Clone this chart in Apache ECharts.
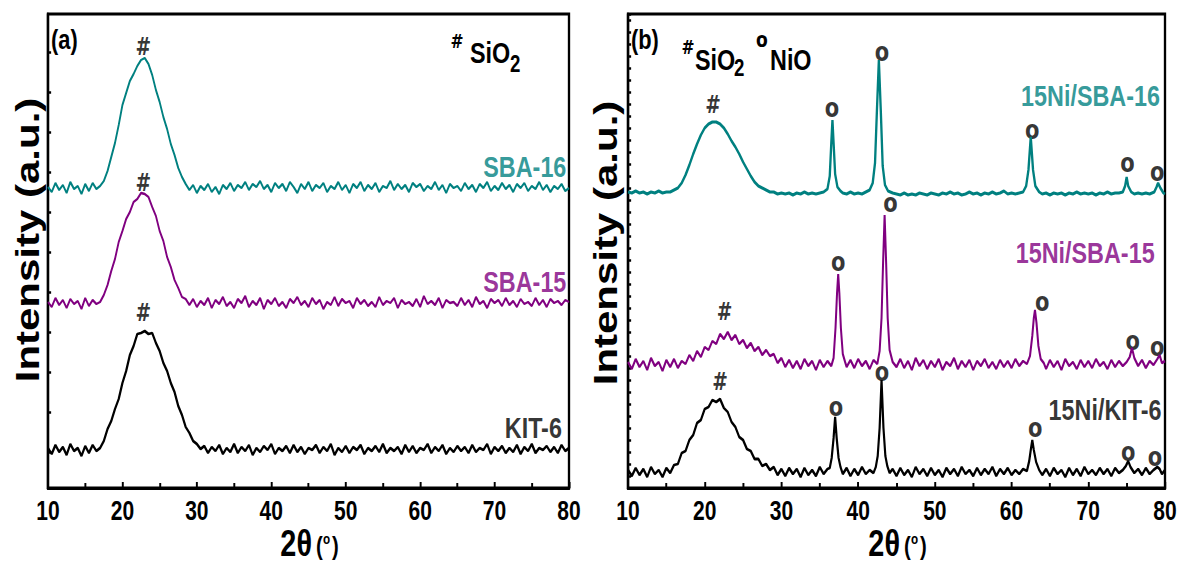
<!DOCTYPE html>
<html><head><meta charset="utf-8">
<script src="https://cdn.jsdelivr.net/npm/echarts@6/dist/echarts.min.js"></script>
<style>
html,body{margin:0;padding:0;background:#fff;overflow:hidden}
#wrap{width:1182px;height:564px;overflow:hidden}
#c{width:1516px;height:564px;transform:scaleX(0.77968);transform-origin:0 0}
</style>
</head><body><div id="wrap"><div id="c"></div></div>
<script>
// ---------- DATA (intensity in arbitrary units, curves offset as in the figure) ----------
const xTicks = [10, 20, 30, 40, 50, 60, 70, 80];
const sampleNames = ['SBA-16', 'SBA-15', 'KIT-6', '15Ni/SBA-16', '15Ni/SBA-15', '15Ni/KIT-6'];
// panel (a): sampled every 0.5 deg from 10 to 80
const sba16 = [301,296,305,298,303,295,306,299,302,294,304,297,305,299,302,307,317,331,345,363,383,395,407,414,422,428,430,424,413,398,386,371,359,344,333,320,311,304,298,
303,295,302,298,304,296,301,294,303,299,305,297,303,300,306,298,304,301,307,299,303,296,305,300,304,297,306,301,295,304,299,306,297,303,300,305,296,302,299,306,298,303,295,304,300,306,297,303,299,305,296,302,300,307,298,304,299,303,296,305,301,304,297,302,299,306,298,303,295,304,300,302,297,305,299,303,296,304,300,306,297,302,298,305,299,303,296,304,300,305,297,302,299,306,298,303,296,302,299,304,297,300];
const sba15 = [186,181,190,183,188,180,189,184,187,179,190,182,188,184,186,193,203,217,229,246,257,269,276,286,289,295,294,291,281,272,257,247,231,221,208,200,191,189,183,
189,181,187,183,190,180,188,184,191,182,186,180,189,185,192,181,187,183,190,179,188,184,190,182,186,180,189,185,191,183,187,181,190,184,188,179,186,183,191,182,189,185,187,180,190,184,188,182,186,181,191,183,187,185,190,180,188,184,186,182,189,181,192,184,187,183,190,180,188,185,186,182,190,183,188,181,191,184,187,180,189,185,188,182,190,183,187,181,189,184,186,182,190,183,188,181,189,185,187,183,188,186];
const kit6 = [40,34,43,36,41,33,44,37,40,32,42,35,43,37,40,47,59,67,79,89,105,117,133,142,154,155,157,154,155,145,137,125,117,105,96,82,73,61,55,47,44,39,
42,35,41,37,43,34,40,36,44,35,41,37,43,33,40,36,42,38,44,34,40,37,42,35,43,36,41,34,40,38,43,35,41,37,44,33,40,36,42,35,41,38,43,34,40,37,42,36,44,35,40,37,41,34,43,36,42,35,40,38,44,35,41,37,43,34,40,36,42,37,41,35,43,36,40,38,44,34,41,37,42,35,40,36,43,34,41,37,44,35,40,38,42,36,41,35,43,37,40];
// panel (b): [2theta, intensity]
const ni_sba16 = [[10,296],[10.5,295],[11,297],[11.5,295],[12,296],[12.5,294],[13,296],[13.5,295],[14,297],[14.5,295],[15,296],[15.5,296],[16,298],[16.5,300],[17,305],[17.5,313],[18,323],[18.5,334],[19,344],[19.5,353],[20,360],[20.5,364],[21,366],[21.5,366],[22,364],[22.5,360],[23,354],[23.5,347],[24,341],[24.5,334],[25,326],[25.5,319],[26,312],[26.5,306],[27,302],[27.5,300],[28,298],[28.5,296],[29,296],[29.5,294],[30,295],[30.5,294],[31,295],[31.5,293],[32,295],[32.5,294],[33,296],[33.5,294],[34,295],[34.5,294],[35,295],[35.5,296],[36,299],[36.3,312],[36.5,345],[36.65,368],[36.8,345],[37,314],[37.3,301],[37.7,297],[38,295],[38.5,294],[39,296],[39.5,294],[40,295],[40.5,294],[41,296],[41.5,298],[41.9,305],[42.2,325],[42.45,378],[42.7,428],[42.95,378],[43.2,322],[43.5,303],[43.9,297],[44.5,295],[45,294],[45.5,293],[46,295],[46.5,293],[47,294],[47.5,293],[48,295],[48.5,294],[49,293],[49.5,295],[50,294],[50.5,293],[51,295],[51.5,294],[52,296],[52.5,294],[53,295],[53.5,293],[54,294],[54.5,296],[55,294],[55.5,295],[56,293],[56.5,295],[57,294],[57.5,296],[58,294],[58.5,295],[59,297],[59.5,294],[60,295],[60.5,294],[61,295],[61.5,296],[61.9,302],[62.2,318],[62.5,351],[62.8,318],[63.1,302],[63.6,296],[64,294],[64.5,295],[65,293],[65.5,295],[66,294],[66.5,295],[67,293],[67.5,295],[68,294],[68.5,296],[69,294],[69.5,295],[70,294],[70.5,295],[71,293],[71.5,295],[72,294],[72.5,296],[73,294],[73.5,295],[74,295],[74.5,296],[74.8,302],[75,311],[75.2,302],[75.6,296],[76,294],[76.5,295],[77,294],[77.5,295],[78,294],[78.6,296],[78.9,301],[79.1,305],[79.4,300],[79.8,295],[80,294]];
const ni_sba15 = [[10,126],[10.5,119],[11,129],[11.5,121],[12,127],[12.5,118],[13,130],[13.5,122],[14,126],[14.5,117],[15,128],[15.5,121],[16,129],[16.5,120],[17,127],[17.5,124],[18,133],[18.5,127],[19,137],[19.5,131],[20,141],[20.5,138],[21,147],[21.5,144],[22,154],[22.5,149],[23,156],[23.5,148],[24,153],[24.5,144],[25,148],[25.5,140],[26,145],[26.5,137],[27,141],[27.5,133],[28,138],[28.5,132],[29,134],[29.5,125],[30,130],[30.5,121],[31,128],[31.5,120],[32,127],[32.5,119],[33,129],[33.5,122],[34,127],[34.5,118],[35,128],[35.5,121],[36,127],[36.5,122],[36.8,130],[37.05,160],[37.25,195],[37.4,214],[37.55,195],[37.75,160],[38,134],[38.3,126],[38.5,121],[39,128],[39.5,120],[40,129],[40.5,122],[41,127],[41.5,119],[42,128],[42.5,124],[42.8,137],[43.05,170],[43.25,225],[43.45,273],[43.65,225],[43.85,170],[44.1,138],[44.5,126],[45,121],[45.5,129],[46,120],[46.5,127],[47,118],[47.5,130],[48,122],[48.5,128],[49,119],[49.5,127],[50,121],[50.5,129],[51,118],[51.5,126],[52,122],[52.5,130],[53,119],[53.5,127],[54,121],[54.5,128],[55,118],[55.5,127],[56,122],[56.5,129],[57,120],[57.5,126],[58,119],[58.5,128],[59,121],[59.5,127],[60,120],[60.5,129],[61,122],[61.5,127],[62,124],[62.4,132],[62.7,152],[62.9,170],[63.05,178],[63.25,165],[63.5,142],[63.8,129],[64.2,125],[64.5,119],[65,128],[65.5,121],[66,127],[66.5,118],[67,129],[67.5,122],[68,126],[68.5,119],[69,128],[69.5,121],[70,127],[70.5,120],[71,129],[71.5,122],[72,126],[72.5,119],[73,128],[73.5,121],[74,127],[74.5,122],[75,126],[75.4,131],[75.7,140],[76,130],[76.5,122],[77,128],[77.5,120],[78,127],[78.5,123],[79,129],[79.3,133],[79.6,125],[80,127]];
const ni_kit6 = [[10,18],[10.5,12],[11,20],[11.5,13],[12,19],[12.5,11],[13,21],[13.5,14],[14,18],[14.5,11],[15,20],[15.5,15],[16,23],[16.5,24],[17,35],[17.5,37],[18,48],[18.5,53],[19,65],[19.5,68],[20,79],[20.5,81],[21,88],[21.5,86],[22,89],[22.5,80],[23,76],[23.5,66],[24,61],[24.5,51],[25,48],[25.5,39],[26,37],[26.5,29],[27,29],[27.5,22],[28,24],[28.5,18],[29,21],[29.5,13],[30,19],[30.5,12],[31,20],[31.5,14],[32,19],[32.5,11],[33,20],[33.5,13],[34,18],[34.5,12],[35,21],[35.5,14],[36,19],[36.3,20],[36.55,30],[36.8,50],[37,71],[37.2,50],[37.45,30],[37.7,21],[38,14],[38.5,20],[39,12],[39.5,19],[40,13],[40.5,21],[41,14],[41.5,18],[42,15],[42.3,21],[42.55,32],[42.8,60],[43.05,108],[43.3,60],[43.55,32],[43.8,22],[44.1,15],[44.5,19],[45,12],[45.5,20],[46,13],[46.5,18],[47,11],[47.5,21],[48,14],[48.5,19],[49,12],[49.5,20],[50,13],[50.5,18],[51,11],[51.5,20],[52,14],[52.5,19],[53,12],[53.5,21],[54,14],[54.5,18],[55,12],[55.5,20],[56,13],[56.5,19],[57,14],[57.5,21],[58,12],[58.5,19],[59,14],[59.5,20],[60,13],[60.5,18],[61,14],[61.5,19],[62,17],[62.3,27],[62.5,38],[62.7,48],[62.9,38],[63.2,26],[63.6,18],[64,13],[64.5,19],[65,12],[65.5,20],[66,14],[66.5,18],[67,11],[67.5,20],[68,13],[68.5,19],[69,12],[69.5,21],[70,14],[70.5,18],[71,13],[71.5,20],[72,14],[72.5,19],[73,12],[73.5,20],[74,15],[74.5,18],[74.9,22],[75.2,27],[75.5,21],[76,15],[76.5,19],[77,13],[77.5,20],[78,14],[78.5,18],[79,21],[79.3,19],[79.6,14],[80,18]];
// peak markers (# = SiO2, o = NiO) and sample-name anchors, in data coordinates
const hashLeft = [[22.8,441],[22.8,305],[22.8,175]];
const hashRight = [[21.1,383],[22.6,176],[22.0,106]];
const nioRight = [[36.6,380],[43.1,436],[62.7,358],[75.1,325],[79.0,316],
                  [37.4,226],[44.2,285],[64.0,186],[75.8,147],[79.0,141],
                  [37.1,81],[43.1,116],[63.1,60],[75.2,36],[78.7,31]];
const nameLeft = [[79.7,321],[79.7,206],[79.1,60]];
const nameRight = [[79.4,392],[78.7,235],[79.6,78]];
const leftYTicks = [36,76,116,156,196,236,276,316,356,396,436];

// ---------- CHART ----------
const K = 0.77968;               // horizontal squeeze of the whole figure (CSS)
const X = px => px / K;          // page pixel -> chart pixel
const TEAL = '#008080', PURPLE = '#800080', BLACK = '#000000';
const SANS = "'Liberation Sans',Arial,Helvetica,sans-serif";
const DJ = "'DejaVu Sans',sans-serif";
const twoTheta = sba16.map((_, i) => 10 + 0.5 * i);

function xAx(gi) {
  return {
    type: 'value', gridIndex: gi, min: 10, max: 80, interval: 10,
    axisLine: { lineStyle: { color: '#000', width: 3 } },
    axisTick: { inside: true, length: 6, lineStyle: { color: '#000', width: 2.5 } },
    minorTick: { show: true, splitNumber: 2, length: 5, lineStyle: { color: '#000', width: 2.5 } },
    splitLine: { show: false },
    axisLabel: { color: '#000', fontFamily: SANS, fontWeight: 'bold', fontSize: 27, margin: 9,
      formatter: v => xTicks.indexOf(v) >= 0 ? String(v) : '' }
  };
}
function yAx(gi, ticks) {
  const t = { inside: true, length: 4, lineStyle: { color: '#000', width: 2.5 } };
  if (ticks) t.customValues = ticks;
  const a = { type: 'value', gridIndex: gi, min: 0, max: 474,
    axisLine: { show: true, lineStyle: { color: '#000', width: 3 } },
    axisTick: t, axisLabel: { show: false }, splitLine: { show: false } };
  if (!ticks) a.interval = 12;
  return a;
}
function line(gi, data, color, w) {
  return { type: 'line', xAxisIndex: gi, yAxisIndex: gi, data, showSymbol: false, symbol: 'none',
    lineStyle: { color, width: w, join: 'bevel' }, itemStyle: { color }, silent: true, animation: false };
}
function marks(gi, data, text, size, family) {
  return { type: 'scatter', xAxisIndex: gi, yAxisIndex: gi, data, symbolSize: 1, silent: true, animation: false,
    itemStyle: { color: 'rgba(0,0,0,0)' },
    label: { show: true, position: 'inside', formatter: text, color: '#000', fontWeight: 'bold', fontSize: size, fontFamily: family } };
}
function names(gi, pts, labels, colors) {
  return { type: 'scatter', xAxisIndex: gi, yAxisIndex: gi, symbolSize: 1, silent: true, animation: false,
    itemStyle: { color: 'rgba(0,0,0,0)' },
    data: pts.map((p, i) => ({ value: p, name: labels[i],
      label: { show: true, position: 'left', distance: 0, formatter: '{b}', color: colors[i], fontWeight: 'bold', fontSize: 30, fontFamily: SANS } })) };
}
const txt = (x, y, s, font, align) => ({ type: 'text', x: X(x), y, style: { text: s, font, fill: '#000', align: align || 'left', verticalAlign: 'middle' } });
const xTitle = cx => [
  txt(cx + 4, 543, '2θ', "bold 37px " + SANS, 'right'),
  txt(cx + 8, 546, '(', "bold 26px " + SANS),
  txt(cx + 15, 539, 'o', "bold 15px " + SANS),
  txt(cx + 24, 546, ')', "bold 26px " + SANS)
];
const yTitle = (cx, cy) => ({ type: 'text', x: X(cx), y: cy, rotation: Math.PI / 2,
  style: { text: 'Intensity (a.u.)', font: "bold 42px " + SANS, fill: '#000', align: 'center', verticalAlign: 'middle' } });

const chart = echarts.init(document.getElementById('c'), null, { renderer: 'svg' });
chart.setOption({
  backgroundColor: '#fff',
  animation: false,
  grid: [
    { left: X(48), top: 14, width: X(521), height: 474, show: true, borderColor: '#000', borderWidth: 3 },
    { left: X(628), top: 14, width: X(537), height: 474, show: true, borderColor: '#000', borderWidth: 3 }
  ],
  xAxis: [xAx(0), xAx(1)],
  yAxis: [yAx(0, leftYTicks), yAx(1, null)],
  series: [
    line(0, twoTheta.map((x, i) => [x, sba16[i]]), TEAL, 2.4),
    line(0, twoTheta.map((x, i) => [x, sba15[i]]), PURPLE, 2.4),
    line(0, twoTheta.map((x, i) => [x, kit6[i]]), BLACK, 2.8),
    line(1, ni_sba16, TEAL, 3),
    line(1, ni_sba15, PURPLE, 2.6),
    line(1, ni_kit6, BLACK, 2.8),
    marks(0, hashLeft, '#', 24, DJ),
    marks(1, hashRight, '#', 24, DJ),
    marks(1, nioRight, 'o', 27, DJ),
    names(0, nameLeft, sampleNames.slice(0, 3), [TEAL, PURPLE, BLACK]),
    names(1, nameRight, sampleNames.slice(3), [TEAL, PURPLE, BLACK])
  ],
  graphic: [
    txt(51, 39, '(a)', "bold 28px " + SANS),
    txt(631, 39, '(b)', "bold 28px " + SANS),
    // legend (a)
    txt(457, 41, '#', "bold 20px " + DJ, 'center'),
    txt(470, 53, 'SiO', "bold 30px " + SANS),
    txt(510, 64, '2', "bold 24px " + SANS),
    // legend (b)
    txt(688, 47, '#', "bold 20px " + DJ, 'center'),
    txt(695, 60, 'SiO', "bold 30px " + SANS),
    txt(734, 68, '2', "bold 24px " + SANS),
    txt(762, 40, 'o', "bold 22px " + DJ, 'center'),
    txt(770, 60, 'NiO', "bold 30px " + SANS),
    yTitle(28, 240), yTitle(606, 243)
  ].concat(xTitle(308), xTitle(896))
});
</script></body></html>
